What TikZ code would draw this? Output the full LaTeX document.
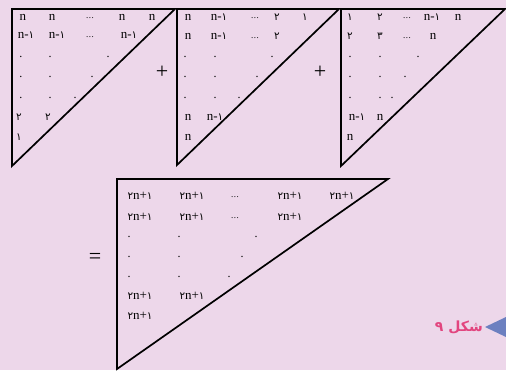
\documentclass[tikz,border=0pt]{standalone}
\usepackage{fontspec}
\setmainfont{Liberation Serif}
\newfontfamily\pdig[Script=Arabic,Scale=0.8]{DejaVu Sans}
\newfontfamily\plabel[Script=Arabic]{DejaVu Sans}
\TeXXeTstate=1
\newcommand\dA{{\pdig ١}}
\newcommand\dB{{\pdig ٢}}
\newcommand\dC{{\pdig ٣}}
\newcommand\tdots{{\fontsize{9}{9}\selectfont .\kern0.6pt.\kern0.6pt.}}
\newcommand\pdot{{\fontsize{12}{12}\selectfont .}}
\definecolor{bgpink}{HTML}{EDD7EA}
\definecolor{lblpink}{HTML}{E2457F}
\definecolor{lblblue}{HTML}{6C80C0}
\tikzset{
  tri/.style={draw=black, line width=1.7pt, line join=miter},
  txt/.style={font=\fontsize{13}{13}\selectfont, inner sep=0pt},
  op/.style={font=\fontsize{22}{22}\selectfont, inner sep=0pt},
}
\begin{document}
\begin{tikzpicture}[x=1pt,y=-1pt]
\fill[bgpink] (0,0) rectangle (506,370);
\useasboundingbox (0,0) rectangle (506,370);
% triangles
\draw[tri] (12,9) -- (175,9) -- (12,166) -- cycle;
\draw[tri] (177,9) -- (339,9) -- (177,165) -- cycle;
\draw[tri] (341,9) -- (505,9) -- (341,166) -- cycle;
\draw[tri] (117,179) -- (388,179) -- (117,369) -- cycle;
% operators
\node[op] (plus1) at (162,72) {+};
\node[op] (plus2) at (320,72) {+};
\node[op] (eq) at (95,258) {=};
% triangle 1
\foreach \x/\y/\t [count=\i] in {
  23/17/n, 52/17/n, 90/18/\tdots, 122/17/n, 152/17/n,
  26/35/n-\dA, 57/35/n-\dA, 90/37/\tdots, 129/35/n-\dA,
  21/57/\pdot, 50/57/\pdot, 108/57/\pdot,
  21/77/\pdot, 50/77/\pdot, 92/77/\pdot,
  21/98/\pdot, 50/98/\pdot, 75/98/\pdot,
  19/117/\dB, 48/117/\dB,
  19/137/\dA}
  \node[txt] (a\i) at (\x,\y) {\t};
% triangle 2
\foreach \x/\y/\t [count=\i] in {
  188/17/n, 219/17/n-\dA, 255/18/\tdots, 277/17/\dB, 305/17/\dA,
  188/36/n, 219/36/n-\dA, 255/38/\tdots, 277/36/\dB,
  185/57/\pdot, 215/57/\pdot, 272/57/\pdot,
  185/77/\pdot, 215/77/\pdot, 257/77/\pdot,
  185/98/\pdot, 215/98/\pdot, 239/98/\pdot,
  188/117/n, 215/117/n-\dA,
  188/137/n}
  \node[txt] (b\i) at (\x,\y) {\t};
% triangle 3
\foreach \x/\y/\t [count=\i] in {
  350/17/\dA, 380/17/\dB, 407/18/\tdots, 432/17/n-\dA, 458/17/n,
  350/36/\dB, 380/36/\dC, 407/38/\tdots, 433/36/n,
  350/57/\pdot, 380/57/\pdot, 418/57/\pdot,
  350/77/\pdot, 380/77/\pdot, 405/77/\pdot,
  350/98/\pdot, 380/98/\pdot, 392/98/\pdot,
  357/117/n-\dA, 380/117/n,
  350/137/n}
  \node[txt] (c\i) at (\x,\y) {\t};
% result triangle
\foreach \x/\y/\t [count=\i] in {
  140/196/\dB n+\dA, 192/196/\dB n+\dA, 235/197/\tdots, 290/196/\dB n+\dA, 342/196/\dB n+\dA,
  140/217/\dB n+\dA, 192/217/\dB n+\dA, 235/218/\tdots, 290/217/\dB n+\dA,
  129/237/\pdot, 179/237/\pdot, 256/237/\pdot,
  129/257/\pdot, 179/257/\pdot, 242/257/\pdot,
  129/277/\pdot, 179/277/\pdot, 229/277/\pdot,
  140/296/\dB n+\dA, 192/296/\dB n+\dA,
  140/316/\dB n+\dA}
  \node[txt] (d\i) at (\x,\y) {\t};
% caption
\node[inner sep=0pt, text=lblpink, font=\plabel\bfseries\fontsize{14}{14}\selectfont, anchor=east] (cap) at (483,327) {\beginR شکل ٩\endR};
\fill[lblblue] (485,327) -- (506,317) -- (506,337) -- cycle;
\end{tikzpicture}
\end{document}
